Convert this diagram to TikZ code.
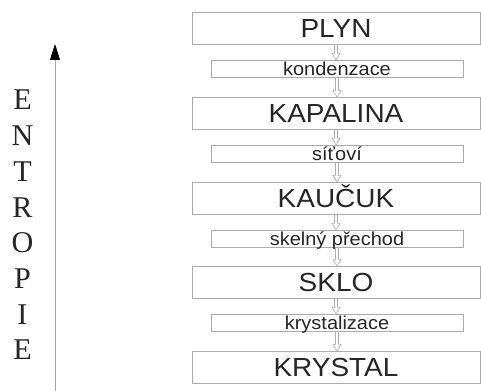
\documentclass[tikz,border=0pt]{standalone}
\usepackage{fontspec}
\setmainfont{Liberation Sans}
\newfontfamily\boxfont{Liberation Sans}[FakeStretch=1.07]
\newfontfamily\axisfont{Liberation Serif}
\usetikzlibrary{arrows.meta,calc}

\tikzset{
  stage/.style={draw=gray!65, line width=0.6pt, minimum width=216pt,
    minimum height=24pt, inner sep=0pt, outer sep=0pt,
    font=\boxfont\fontsize{19.6}{20}\selectfont, text=black!85,
    text height=14pt, text depth=0pt},
  process/.style={draw=gray!65, line width=0.6pt, minimum width=189pt,
    minimum height=12.75pt, inner sep=0pt, outer sep=0pt,
    font=\boxfont\fontsize{14}{15}\selectfont, text=black!85,
    text height=10pt, text depth=0pt},
  flow/.style={draw=gray!60, line width=0.45pt},
  letter/.style={font=\axisfont\fontsize{22.6}{24}\selectfont, text=black!85,
    inner sep=0pt, text height=15pt, text depth=0pt},
  axis/.style={draw=gray!70, line width=0.6pt,
    -{Triangle[length=12pt,width=7.5pt,color=black]}},
}

% hollow block arrow from the bottom of one box to the top of the next
\newcommand\flowarrow[2]{%
  \path[flow] let \p1=(#1.south), \p2=(#2.north) in
    (\x1-1.1pt,\y1) -- (\x1-1.1pt,\y2+5pt) -- (\x1-3pt,\y2+5pt) -- (\x1,\y2)
    -- (\x1+3pt,\y2+5pt) -- (\x1+1.1pt,\y2+5pt) -- (\x1+1.1pt,\y1);}

\begin{document}
\begin{tikzpicture}[x=0.75pt, y=-0.75pt]
  \useasboundingbox (0,0) rectangle (481,391);

  % states and transitions
  \node[stage]   (plyn)     at (336,28)    {PLYN};
  \node[process] (kond)     at (337,68.5)  {kondenzace};
  \node[stage]   (kapalina) at (336,113)   {KAPALINA};
  \node[process] (sit)      at (337,153.5) {síťoví};
  \node[stage]   (kaucuk)   at (336,198)   {KAUČUK};
  \node[process] (skelny)   at (337,238.5) {skelný přechod};
  \node[stage]   (sklo)     at (336,282)   {SKLO};
  \node[process] (kryst)    at (337,322.5) {krystalizace};
  \node[stage]   (krystal)  at (336,367)   {KRYSTAL};

  \flowarrow{plyn}{kond}
  \flowarrow{kond}{kapalina}
  \flowarrow{kapalina}{sit}
  \flowarrow{sit}{kaucuk}
  \flowarrow{kaucuk}{skelny}
  \flowarrow{skelny}{sklo}
  \flowarrow{sklo}{kryst}
  \flowarrow{kryst}{krystal}

  % entropy axis
  \coordinate (axbot) at (55,391);
  \coordinate (axtop) at (55,44);
  \draw[axis] (axbot) -- (axtop);
  \foreach \c [count=\i] in {E,N,T,R,O,P,I,E}
    \node[letter] (ent\i) at (22.5,{100+35.7*(\i-1)}) {\c};
\end{tikzpicture}
\end{document}
